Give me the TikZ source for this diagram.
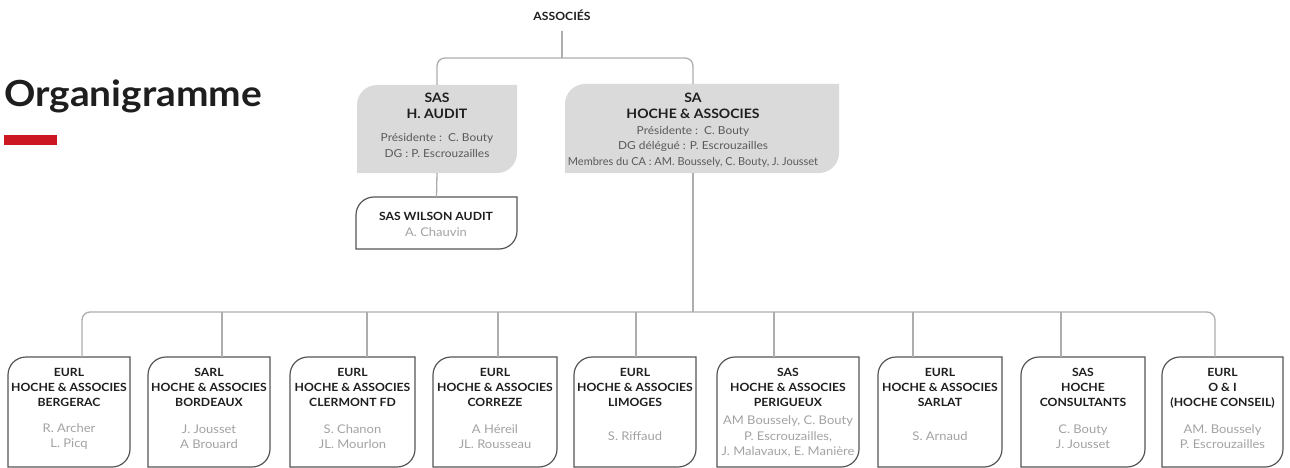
\documentclass[tikz,border=0pt]{standalone}
\usepackage{fontspec}
\setmainfont{Lato}
\newfontfamily\widefont[FakeStretch=1.08]{Lato}
\definecolor{boxgrey}{HTML}{DADADA}
\definecolor{linkgrey}{HTML}{ADADAD}
\definecolor{edgegrey}{HTML}{555555}
\definecolor{namegrey}{HTML}{A3A3A3}
\definecolor{infogrey}{HTML}{5A5A5A}
\definecolor{titlered}{HTML}{CC1820}
\definecolor{inkblack}{HTML}{1E1E1E}
\newcommand\leafshape[3]{%
  \path[#1] ([yshift=-#3]#2.north west) arc[start angle=180, end angle=90, radius=#3]
    -- (#2.north east) -- ([yshift=#3]#2.south east) arc[start angle=0, end angle=-90, radius=#3]
    -- (#2.south west) -- cycle;}
\begin{document}
\begin{tikzpicture}[x=1pt, y=1pt,
    slot/.style={inner sep=0pt, outer sep=0pt, anchor=north west},
    link/.style={draw=linkgrey, line width=1.3pt},
    leafline/.style={draw=edgegrey, line width=1.2pt, fill=white},
    leaffill/.style={fill=boxgrey},
    head/.style={anchor=north, align=center, inner sep=0pt, text=inkblack, font=\widefont\bfseries\fontsize{11.3}{15}\selectfont},
    tophead/.style={anchor=north, align=center, inner sep=0pt, text=inkblack, font=\widefont\bfseries\fontsize{13}{16}\selectfont},
    info/.style={anchor=north, align=center, inner sep=0pt, text=infogrey, font=\widefont\fontsize{11}{15.5}\selectfont},
    names/.style={align=center, inner sep=0pt, text=namegrey, font=\widefont\fontsize{12}{15.5}\selectfont}]
  \useasboundingbox (0,0) rectangle (1290,-468);

  \node[anchor=base west, inner sep=0pt, text=inkblack, font=\widefont\bfseries\fontsize{36}{40}\selectfont] (title) at (4,-107) {Organigramme};
  \node[slot, fill=titlered, minimum width=53, minimum height=10] (bar) at (4,-135.5) {};

  \node[inner sep=0pt, text=inkblack, font=\widefont\bfseries\fontsize{11.3}{12}\selectfont] (assoc) at (562,-15) {ASSOCIÉS};
  \node[slot, minimum width=160, minimum height=88] (haudit) at (357,-85) {};
  \node[slot, minimum width=274, minimum height=89] (sa) at (565,-84) {};
  \node[slot, minimum width=161, minimum height=52] (wilson) at (356,-197) {};

  \node[slot, minimum width=122, minimum height=110] (b1) at (8,-357) {};
  \node[slot, minimum width=122, minimum height=110] (b2) at (148,-357) {};
  \node[slot, minimum width=125, minimum height=110] (b3) at (290,-357) {};
  \node[slot, minimum width=124, minimum height=110] (b4) at (433,-357) {};
  \node[slot, minimum width=122, minimum height=110] (b5) at (574,-357) {};
  \node[slot, minimum width=142, minimum height=110] (b6) at (717,-357) {};
  \node[slot, minimum width=124, minimum height=110] (b7) at (878,-357) {};
  \node[slot, minimum width=124, minimum height=110] (b8) at (1021,-357) {};
  \node[slot, minimum width=121, minimum height=110] (b9) at (1162,-357) {};

  \leafshape{leaffill}{haudit}{20pt}
  \leafshape{leaffill}{sa}{20pt}
  \leafshape{leafline}{wilson}{18pt}
  \foreach \b in {b1,b2,b3,b4,b5,b6,b7,b8,b9}
    {\leafshape{leafline}{\b}{18pt}}

  \node[tophead] (hauditHead) at (437,-92.5) {SAS\\H. AUDIT};
  \node[info] (hauditInfo) at (437,-133.5) {Présidente :~~C. Bouty\\DG : P. Escrouzailles};
  \node[tophead] (sahead) at (693,-92.5) {SA\\HOCHE \& ASSOCIES};
  \node[info] (saInfo) at (693,-126) {Présidente :~~C. Bouty\\DG délégué : P. Escrouzailles\\{\rmfamily Membres du CA : AM. Boussely, C. Bouty, J. Jousset}};
  \node[head] (wilsonHead) at (436,-212) {SAS WILSON AUDIT};
  \node[names] (wilsonName) at (436,-232) {A. Chauvin};

  \node[head] (h1) at ([yshift=-11pt]b1.north) {EURL\\HOCHE \& ASSOCIES\\BERGERAC};
  \node[names] (n1) at ([yshift=30.5pt]b1.south) {R. Archer\\L. Picq};
  \node[head] (h2) at ([yshift=-11pt]b2.north) {SARL\\HOCHE \& ASSOCIES\\BORDEAUX};
  \node[names] (n2) at ([yshift=30.5pt]b2.south) {J. Jousset\\A Brouard};
  \node[head] (h3) at ([yshift=-11pt]b3.north) {EURL\\HOCHE \& ASSOCIES\\CLERMONT FD};
  \node[names] (n3) at ([yshift=30.5pt]b3.south) {S. Chanon\\JL. Mourlon};
  \node[head] (h4) at ([yshift=-11pt]b4.north) {EURL\\HOCHE \& ASSOCIES\\CORREZE};
  \node[names] (n4) at ([yshift=30.5pt]b4.south) {A Héreil\\JL. Rousseau};
  \node[head] (h5) at ([yshift=-11pt]b5.north) {EURL\\HOCHE \& ASSOCIES\\LIMOGES};
  \node[names] (n5) at ([yshift=30.5pt]b5.south) {S. Riffaud};
  \node[head] (h6) at ([yshift=-11pt]b6.north) {SAS\\HOCHE \& ASSOCIES\\PERIGUEUX};
  \node[names] (n6) at ([yshift=30.5pt]b6.south) {AM Boussely, C. Bouty\\P. Escrouzailles,\\J. Malavaux, E. Manière};
  \node[head] (h7) at ([yshift=-11pt]b7.north) {EURL\\HOCHE \& ASSOCIES\\SARLAT};
  \node[names] (n7) at ([yshift=30.5pt]b7.south) {S. Arnaud};
  \node[head] (h8) at ([yshift=-11pt]b8.north) {SAS\\HOCHE\\CONSULTANTS};
  \node[names] (n8) at ([yshift=30.5pt]b8.south) {C. Bouty\\J. Jousset};
  \node[head] (h9) at ([yshift=-11pt]b9.north) {EURL\\O \& I\\(HOCHE CONSEIL)};
  \node[names] (n9) at ([yshift=30.5pt]b9.south) {AM. Boussely\\P. Escrouzailles};

  \coordinate (topbus) at (562,-58);
  \foreach \i/\x in {1/82,2/222,3/367,4/498,5/636,6/774,7/913,8/1061,9/1215}
    {\coordinate (d\i) at (\x,-312);}

  \draw[link] ([yshift=-10pt]assoc.south) -- (topbus);
  \draw[link, rounded corners=8pt] (haudit.north) |- (topbus) -| (sahead |- sa.north);
  \draw[link] (haudit.south) -- (wilson.north);
  \draw[link] (sahead |- sa.south) -- (sahead |- d1);
  \draw[link, rounded corners=8pt] (d1 |- b1.north) -- (d1) -- (d9) -- (d9 |- b9.north);
  \foreach \i in {2,...,8}
    {\draw[link] (d\i) -- (d\i |- b\i.north);}
\end{tikzpicture}
\end{document}
